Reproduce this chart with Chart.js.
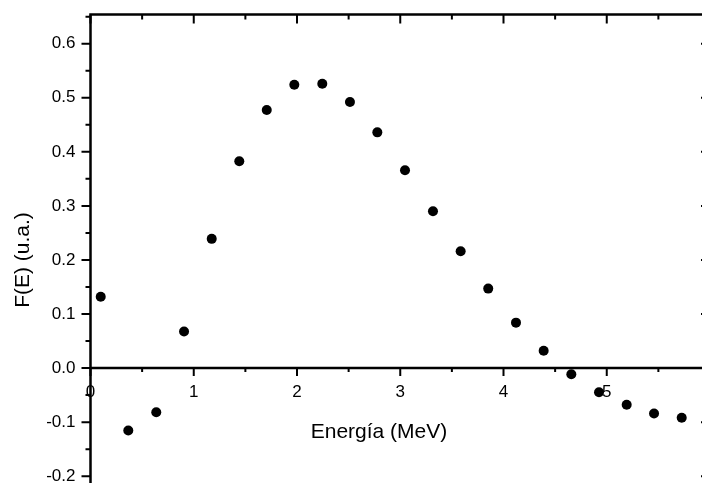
<!DOCTYPE html>
<html>
<head>
<meta charset="utf-8">
<script src="https://cdn.jsdelivr.net/npm/chart.js@4"></script>
<style>
  body { margin: 0; background: #fff; }
  #wrap { position: absolute; left: 0; top: 0; width: 702px; height: 483px; overflow: hidden; }
  canvas { display: block; }
</style>
</head>
<body>
<div id="wrap"><canvas id="chart" width="720" height="492" style="width:720px;height:492px"></canvas></div>
<script>
// Energía (MeV) vs F(E) (u.a.)
const energy = [0.099, 0.366, 0.637, 0.906, 1.174, 1.441, 1.707, 1.974, 2.245, 2.513, 2.778,
  3.046, 3.317, 3.585, 3.852, 4.121, 4.389, 4.657, 4.925, 5.193, 5.458, 5.726];
const fE = [0.132, -0.1155, -0.0816, 0.0676, 0.239, 0.3825, 0.4775, 0.524, 0.526, 0.492, 0.436,
  0.366, 0.290, 0.216, 0.147, 0.084, 0.032, -0.0116, -0.0448, -0.068, -0.084, -0.092];

const xTitle = "Energía (MeV)";
const yTitle = "F(E) (u.a.)";
const xRange = [0, 6];
const yRange = [-0.22, 0.654];

const FONT = "'Liberation Sans', Arial, sans-serif";

// marcos, ticks menores y títulos
const frame = {
  id: "frame",
  beforeDatasetsDraw(chart) {
    const { ctx, chartArea: a, scales: { x, y } } = chart;
    const y0 = y.getPixelForValue(0);
    ctx.save();
    ctx.strokeStyle = "#000";
    ctx.lineCap = "butt";
    ctx.lineWidth = 2.5;
    ctx.beginPath();
    ctx.moveTo(a.left, a.bottom); ctx.lineTo(a.left, a.top);
    ctx.lineTo(a.right, a.top); ctx.lineTo(a.right, a.bottom);
    ctx.moveTo(a.left, y0); ctx.lineTo(a.right, y0);
    ctx.stroke();

    ctx.lineWidth = 2;
    ctx.beginPath();
    const seg = (x1, y1, x2, y2) => { ctx.moveTo(x1, y1); ctx.lineTo(x2, y2); };
    for (let i = 0; i <= 12; i++) {
      const v = i * 0.5;
      const px = x.getPixelForValue(v);
      const len = i % 2 === 0 ? 9 : 5;
      seg(px, a.top, px, a.top + len);   // arriba, hacia dentro
      seg(px, y0, px, y0 + len - 1);     // eje en cero, hacia abajo
    }
    for (let i = -4; i <= 13; i++) {
      const v = i * 0.05;
      const py = y.getPixelForValue(v);
      if (py < a.top + 1) continue;
      const len = i % 2 === 0 ? 9 : 5;
      seg(a.left, py, a.left - len, py);   // izquierda, hacia fuera
      seg(a.right, py, a.right - len, py); // derecha, hacia dentro
    }
    ctx.stroke();

    ctx.fillStyle = "#000";
    ctx.font = "21px " + FONT;
    ctx.textAlign = "center";
    ctx.textBaseline = "alphabetic";
    ctx.fillText(xTitle, 379, 438);
    ctx.translate(28.5, 260);
    ctx.rotate(-Math.PI / 2);
    ctx.fillText(yTitle, 0, 0);
    ctx.restore();
  },
};

new Chart(document.getElementById("chart"), {
  type: "scatter",
  data: {
    datasets: [{
      data: energy.map((e, i) => ({ x: e, y: fE[i] })),
      backgroundColor: "#000",
      borderColor: "#000",
      borderWidth: 0,
      pointRadius: 5,
      pointHoverRadius: 5,
    }],
  },
  options: {
    responsive: false,
    animation: false,
    events: [],
    layout: { padding: { left: 0, top: 14.5, right: 10, bottom: 3.8 } },
    plugins: { legend: { display: false }, tooltip: { enabled: false } },
    scales: {
      x: {
        type: "linear",
        position: { y: 0 },
        min: xRange[0], max: xRange[1],
        afterFit: (s) => { s.height = 0; s.paddingLeft = 0; s.paddingRight = 0; },
        grid: { display: false, drawTicks: true, tickLength: 8 },
        border: { display: false },
        ticks: {
          stepSize: 1, includeBounds: false, padding: 6, maxRotation: 0,
          color: "#000", font: { family: FONT, size: 17 },
        },
      },
      y: {
        type: "linear",
        min: yRange[0], max: yRange[1],
        afterFit: (s) => { s.width = 90.5; s.paddingTop = 0; s.paddingBottom = 0; },
        grid: { display: false, drawTicks: true, tickLength: 8 },
        border: { display: false },
        ticks: {
          stepSize: 0.1, includeBounds: false, padding: 7,
          color: "#000", font: { family: FONT, size: 17 },
          callback: (v) => (Math.abs(v) < 1e-9 ? 0 : v).toFixed(1),
        },
      },
    },
  },
  plugins: [frame],
});
</script>
</body>
</html>
